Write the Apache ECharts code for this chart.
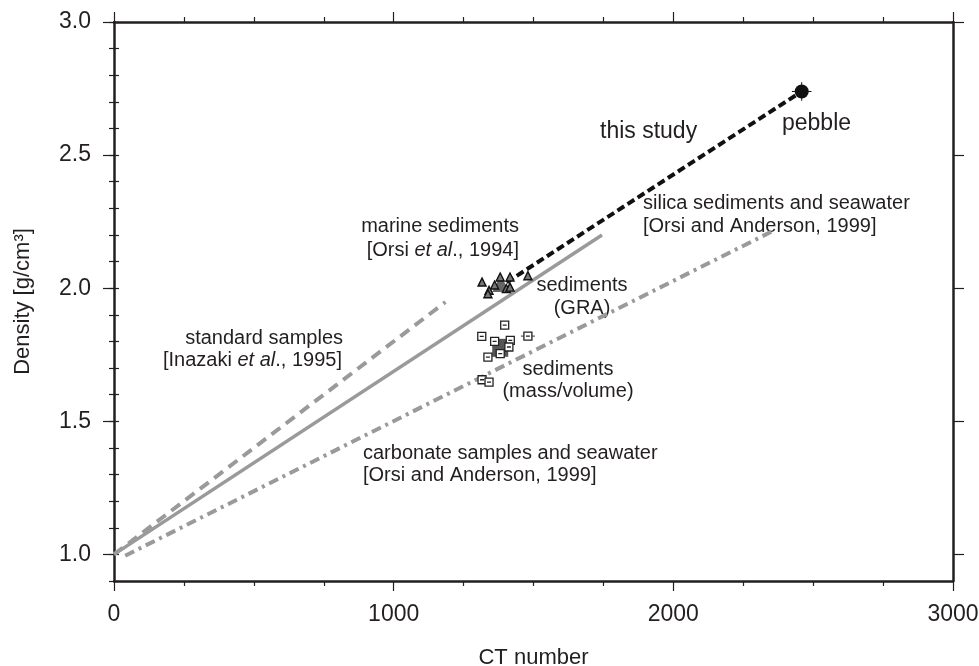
<!DOCTYPE html>
<html>
<head>
<meta charset="utf-8">
<script src="https://cdn.jsdelivr.net/npm/echarts@6/dist/echarts.min.js"></script>
<style>
  html, body { margin: 0; background: #fff; }
  #chart { width: 979px; height: 666px; }
</style>
</head>
<body>
<div id="chart"></div>
<script>
// reference lines [CT number, density]
var marineLine = [[0, 1.0], [1745, 2.2]];
var standardLine = [[0, 1.0], [1185, 1.948]];
var carbonateLine = [[40, 0.995], [2350, 2.212]];
var thisStudyLine = [[1404, 2.022], [2459, 2.739]];

// sediments (GRA)
var graPoints = [[1316, 2.023], [1381, 2.042], [1361, 2.012], [1341, 1.992], [1337, 1.979],
                 [1416, 2.042], [1403, 1.999], [1416, 2.004], [1480, 2.047]];
var graMean = [[1383, 2.018]];

// sediments (mass/volume)
var massPoints = [[1397, 1.861], [1315, 1.819], [1361, 1.800], [1417, 1.804], [1412, 1.779],
                  [1381, 1.754], [1337, 1.741], [1480, 1.820], [1316, 1.656], [1341, 1.647]];
var massMean = [[1381, 1.776]];

// pebble
var pebble = [[2459, 2.739]];
var pebbleErrCT = 35;
var pebbleErrDens = 0.035;

var yMajor = [1.0, 1.5, 2.0, 2.5, 3.0];
var yMinor = [0.9, 1.0, 1.1, 1.2, 1.3, 1.4, 1.5, 1.6, 1.7, 1.8, 1.9, 2.0,
              2.1, 2.2, 2.3, 2.4, 2.5, 2.6, 2.7, 2.8, 2.9, 3.0];

var ink = '#231f20';
var gray = '#9a9a9a';
var font = 'Liberation Sans';

var frame = { show: true, onZero: false, lineStyle: { color: ink, width: 2.5 } };

function xAx(pos, withLabel) {
    return {
        type: 'value', position: pos, min: 0, max: 3000, interval: 1000,
        axisLine: frame,
        axisTick: { show: true, length: 10, lineStyle: { color: ink, width: 1.2 } },
        minorTick: { show: true, splitNumber: 4, length: 5, lineStyle: { color: ink, width: 1.2 } },
        splitLine: { show: false },
        axisLabel: {
            show: withLabel, margin: 22, fontSize: 23, color: ink, fontFamily: font,
            formatter: function (v) { return String(v); }
        },
        name: withLabel ? 'CT number' : '',
        nameLocation: 'middle', nameGap: 66,
        nameTextStyle: { fontSize: 22, color: ink, fontFamily: font }
    };
}

function yAx(pos, ticks, len, withLabel, withLine) {
    return {
        type: 'value', position: pos, min: 0.9, max: 3.0, offset: 0,
        axisLine: withLine ? frame : { show: false },
        axisTick: { show: true, customValues: ticks, length: len, lineStyle: { color: ink, width: 1.2 } },
        splitLine: { show: false },
        axisLabel: {
            show: withLabel, customValues: yMajor, margin: 23, fontSize: 23, color: ink, fontFamily: font,
            formatter: function (v) { return v.toFixed(1); }
        },
        name: withLabel ? 'Density [g/cm³]' : '',
        nameLocation: 'middle', nameGap: 80,
        nameTextStyle: { fontSize: 22, color: ink, fontFamily: font }
    };
}

function line(data, color, type, width) {
    return {
        type: 'line', data: data, symbol: 'none', silent: true, z: 2,
        lineStyle: { color: color, type: type, width: width, cap: 'butt' }
    };
}

function dots(data, symbol, size, style, z) {
    style.opacity = 1;
    return { type: 'scatter', data: data, symbol: symbol, symbolSize: size, z: z, silent: true, itemStyle: style };
}

function label(text, x, y, align, size) {
    var fs = size || 20;
    return {
        type: 'text', x: x, y: y, silent: true,
        style: {
            text: text, fill: ink, font: fs + 'px "' + font + '"',
            align: align || 'left', verticalAlign: 'middle',
            rich: { i: { fontStyle: 'italic', fontSize: fs, fontFamily: font, fill: ink } }
        }
    };
}

var squarePath = 'path://M0,0L10,0L10,10L0,10Z M2.5,5L7.5,5';

var chart = echarts.init(document.getElementById('chart'));
chart.setOption({
    animation: false,
    grid: { left: 114, right: 26, top: 22, bottom: 85, containLabel: false, outerBoundsMode: 'none' },
    xAxis: [xAx('bottom', true), xAx('top', false)],
    yAxis: [
        yAx('left', yMajor, 11, true, true),
        yAx('left', yMinor, 5, false, false),
        yAx('right', yMajor, 11, false, true),
        yAx('right', yMinor, 5, false, false)
    ],
    series: [
        line(marineLine, gray, 'solid', 3.5),
        line(standardLine, gray, [11, 7], 4),
        line(carbonateLine, gray, [10, 5, 3, 5], 4),
        line(thisStudyLine, '#111', [8, 4], 4),
        line([[pebble[0][0] - pebbleErrCT, pebble[0][1]], [pebble[0][0] + pebbleErrCT, pebble[0][1]]], '#111', 'solid', 1),
        line([[pebble[0][0], pebble[0][1] - pebbleErrDens], [pebble[0][0], pebble[0][1] + pebbleErrDens]], '#111', 'solid', 1),
        line([[massPoints[7][0] - 25, massPoints[7][1]], [massPoints[7][0] + 25, massPoints[7][1]]], '#333', 'solid', 1),
        dots(massMean, 'rect', [16, 18], { color: '#555' }, 3),
        dots(massPoints, squarePath, 8, { color: '#fff', borderColor: '#222', borderWidth: 1.3 }, 4),
        dots(graMean, 'triangle', 17, { color: '#666' }, 3),
        dots(graPoints, 'triangle', 8, { color: '#777', borderColor: '#111', borderWidth: 1.4 }, 4),
        dots(pebble, 'circle', 14, { color: '#111' }, 5)
    ],
    graphic: [
        label('this study', 600, 132, 'left', 23),
        label('pebble', 782, 124, 'left', 23),
        label('silica sediments and seawater', 643, 203),
        label('[Orsi and Anderson, 1999]', 643, 226),
        label('marine sediments', 519, 226, 'right'),
        label('[Orsi {i|et al}., 1994]', 519, 250, 'right'),
        label('sediments', 582, 285, 'center'),
        label('(GRA)', 582, 308, 'center'),
        label('sediments', 568, 369, 'center'),
        label('(mass/volume)', 568, 391, 'center'),
        label('standard samples', 343, 338, 'right'),
        label('[Inazaki {i|et al}., 1995]', 342, 360, 'right'),
        label('carbonate samples and seawater', 363, 453),
        label('[Orsi and Anderson, 1999]', 363, 475)
    ]
});
window.addEventListener('resize', function () { chart.resize(); });
</script>
</body>
</html>
